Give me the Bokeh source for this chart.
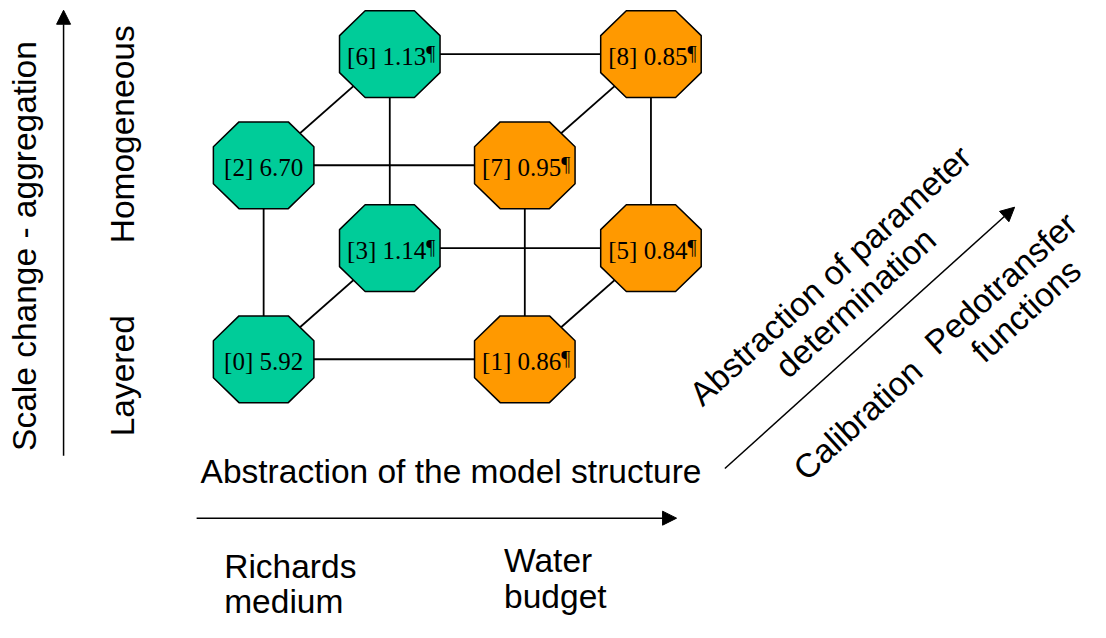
import math
from bokeh.plotting import figure
from bokeh.models import Range1d, ColumnDataSource, Arrow, NormalHead
from bokeh.embed import file_html
from bokeh.resources import INLINE
from bokeh.core.properties import value

# ---- data -------------------------------------------------------------
node_ids = [0, 1, 2, 3, 5, 6, 7, 8]
node_values = ["5.92", "0.86", "6.70", "1.14", "0.84", "1.13", "0.95", "0.85"]
has_pilcrow = [False, True, False, True, True, True, True, True]
model_level = [0, 1, 0, 0, 1, 0, 1, 1]   # 0 = Richards medium, 1 = Water budget
param_level = [0, 0, 0, 1, 1, 1, 0, 1]   # 0 = Calibration, 1 = Pedotransfer functions
scale_level = [0, 0, 1, 0, 0, 1, 1, 1]   # 0 = Layered, 1 = Homogeneous
model_colors = ["#00CC99", "#FF9900"]
edges = [(0, 1), (0, 2), (2, 7), (1, 7), (3, 5), (3, 6), (6, 8), (5, 8),
         (0, 3), (2, 6), (7, 8), (1, 5)]

x_title = "Abstraction of the model structure"
x_levels = [["Richards", "medium"], ["Water", "budget"]]
y_title = "Scale change - aggregation"
y_levels = ["Layered", "Homogeneous"]
z_title = ["Abstraction of parameter", "determination"]
z_levels = [["Calibration"], ["Pedotransfer", "functions"]]

# ---- layout (reference pixels, y downward; plotted as -y) -------------
W, H = 1090, 622
RW, RH = 1106, 638
X0, Y0 = 267, 368          # front-bottom-left node
DX, DY = 265, 199          # model step, scale step
OX, OY = 128, 114          # parameter (depth) step
HW, HH, CW, CH = 51, 44.5, 25, 19   # octagon half width/height, edge half lengths
MID = 11.5                 # baseline -> em-middle offset for the sans texts

SANS = value("Liberation Sans")
SERIF = value("Liberation Serif")

p = figure(width=W, height=H, x_range=Range1d(0, RW), y_range=Range1d(-RH, 0),
           output_backend="svg", toolbar_location=None, min_border=0,
           x_axis_location=None, y_axis_location=None)
p.grid.visible = False
p.outline_line_color = None
p.background_fill_color = "white"

pos = {}
for nid, m, pp, s in zip(node_ids, model_level, param_level, scale_level):
    pos[nid] = (X0 + m * DX + pp * OX, -(Y0 - s * DY - pp * OY))

# cube edges
p.segment(x0=[pos[a][0] for a, b in edges], y0=[pos[a][1] for a, b in edges],
          x1=[pos[b][0] for a, b in edges], y1=[pos[b][1] for a, b in edges],
          line_color="black", line_width=1.8)

# octagons
offs = [(-CW, HH), (CW, HH), (HW, CH), (HW, -CH), (CW, -HH), (-CW, -HH), (-HW, -CH), (-HW, CH)]
xs, ys, cols = [], [], []
for nid, m in zip(node_ids, model_level):
    cx, cy = pos[nid]
    xs.append([cx + dx for dx, dy in offs])
    ys.append([cy + dy for dx, dy in offs])
    cols.append(model_colors[m])
p.patches(xs=xs, ys=ys, fill_color=cols, line_color="black", line_width=1.5)

# labels
c_src = dict(x=[], y=[], t=[])
r_src = dict(x=[], y=[], t=[])
pil = dict(x=[], y=[], t=[])
for nid, v, hp in zip(node_ids, node_values, has_pilcrow):
    cx, cy = pos[nid]
    lab = f"[{nid}] {v}"
    if hp:
        r_src["x"].append(cx + 37); r_src["y"].append(cy - 2); r_src["t"].append(lab)
        pil["x"].append(cx + 37); pil["y"].append(cy + 1); pil["t"].append("\u00b6")
    else:
        c_src["x"].append(cx); c_src["y"].append(cy - 2); c_src["t"].append(lab)
p.text(x="x", y="y", text="t", source=ColumnDataSource(c_src), text_font=SERIF,
       text_font_size="25px", text_align="center", text_baseline="middle", text_color="black")
p.text(x="x", y="y", text="t", source=ColumnDataSource(r_src), text_font=SERIF,
       text_font_size="25px", text_align="right", text_baseline="middle", text_color="black")
p.text(x="x", y="y", text="t", source=ColumnDataSource(pil), text_font=SERIF,
       text_font_size="20px", text_align="left", text_baseline="middle", text_color="black")

# axis arrows
def arrow(x0, y0, x1, y1):
    p.add_layout(Arrow(x_start=x0, y_start=-y0, x_end=x1, y_end=-y1,
                       end=NormalHead(size=14, fill_color="black", line_color="black"),
                       line_color="black", line_width=1.5))

arrow(64, 467, 64, 10)
arrow(199, 531, 686, 531)
ax0, ay0, ax1, ay1 = 735, 480, 1029, 212
arrow(ax0, ay0, ax1, ay1)
theta = math.atan2(ay0 - ay1, ax1 - ax0)

def txt(x, y, t, angle=0.0, align="left"):
    p.text(x=[x], y=[-y], text=[t], angle=angle, text_font=SANS, text_font_size="33.5px",
           text_align=align, text_baseline="middle", text_color="black")

# x axis texts (baseline positions shifted to em-middle)
txt(203, 495 - MID, x_title)
txt(227, 592 - MID, x_levels[0][0]); txt(227, 628 - MID, x_levels[0][1])
txt(511, 586 - MID, x_levels[1][0]); txt(511, 623 - MID, x_levels[1][1])

# y axis texts (rotated, baseline on the right side)
txt(36 - MID, 462, y_title, angle=math.pi / 2)
txt(135 - MID, 447, y_levels[0], angle=math.pi / 2)
txt(135 - MID, 249, y_levels[1], angle=math.pi / 2)

# z axis texts
nx, ny = math.sin(theta), math.cos(theta)   # perpendicular (down-right on screen)
lg = 38
txt(842, 282, z_title[0], angle=theta, align="center")
txt(842 + nx * lg, 282 + ny * lg, z_title[1], angle=theta, align="center")
txt(870, 430, z_levels[0][0], angle=theta, align="center")
txt(1015, 290, z_levels[1][0], angle=theta, align="center")
txt(1015 + nx * lg, 290 + ny * lg, z_levels[1][1], angle=theta, align="center")

open("out.html", "w").write(file_html(p, INLINE))
